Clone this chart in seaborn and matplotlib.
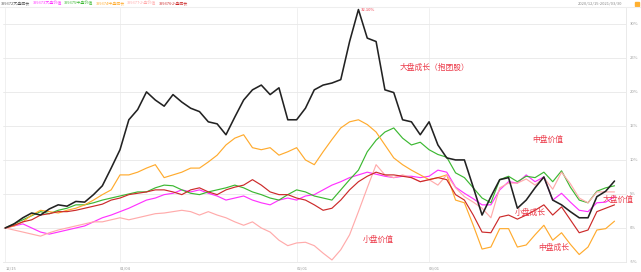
import numpy as np
import pandas as pd
import matplotlib
matplotlib.use("Agg")
import matplotlib.pyplot as plt
import seaborn as sns

# ---- data (cumulative return, %) ----
days = list(range(70))
big_growth = [0, 0.6, 1.5, 2.2, 1.9, 2.8, 3.4, 3.2, 3.9, 3.8, 4.9, 6.2, 8.8, 11.5, 15.9, 17.4, 20.0, 18.8, 17.9, 19.6,
              18.5, 17.6, 17.1, 15.6, 15.3, 13.7, 16.3, 18.8, 20.3, 21.0, 19.6, 20.6, 15.9, 15.9, 17.6, 20.3, 21.0, 21.3, 21.8, 27.4,
              32.1, 27.9, 27.4, 20.3, 19.9, 15.9, 15.6, 13.7, 15.6, 12.2, 10.3, 10.0, 10.0, 6.0, 1.9, 4.6, 7.1, 7.4, 2.9, 4.1,
              5.9, 7.5, 4.1, 3.4, 2.4, 1.5, 1.5, 4.6, 5.4, 6.9]
big_value = [0, 0.3, 0.6, 0, -0.6, -0.9, -0.6, -0.3, 0, 0.3, 0.9, 1.5, 1.9, 2.4, 2.9, 3.5, 4.1, 4.4, 4.9, 5.1,
             5.6, 5.3, 5.6, 5.1, 4.7, 4.1, 4.4, 4.7, 4.1, 3.7, 3.4, 4.1, 4.4, 4.1, 4.7, 4.9, 5.6, 6.3, 6.8, 7.4,
             7.8, 8.2, 7.9, 7.6, 7.4, 7.6, 7.6, 7.4, 7.6, 8.5, 8.2, 6.0, 5.1, 4.3, 3.4, 3.4, 5.6, 6.8, 6.6, 7.8,
             6.8, 7.5, 4.1, 5.1, 3.8, 2.6, 2.4, 3.7, 3.8, 4.6]
mid_value = [0, 0.6, 1.2, 1.8, 2.4, 2.1, 2.6, 2.9, 3.4, 3.4, 3.7, 4.1, 4.4, 4.7, 5.0, 5.3, 5.3, 5.9, 6.3, 6.2,
             5.6, 5.1, 4.9, 5.3, 5.6, 5.9, 6.3, 5.9, 5.3, 4.9, 4.4, 4.1, 4.9, 5.6, 5.3, 4.7, 4.4, 4.1, 5.6, 7.1,
             8.5, 11.2, 12.9, 14.1, 14.7, 13.2, 12.2, 12.6, 11.5, 10.8, 10.4, 8.1, 7.4, 5.9, 4.4, 3.7, 7.1, 7.6, 6.8, 7.6,
             7.4, 8.2, 6.8, 8.4, 6.0, 4.1, 3.7, 5.4, 5.9, 6.2]
mid_growth = [0, 0.3, 0.9, 1.9, 2.6, 2.4, 2.2, 2.6, 2.9, 3.4, 4.1, 4.9, 5.6, 7.8, 7.8, 8.2, 8.8, 9.3, 7.4, 7.8,
              8.2, 8.8, 8.8, 9.7, 10.7, 12.2, 13.2, 13.7, 11.8, 11.5, 11.8, 10.7, 11.2, 11.8, 10.0, 9.3, 11.2, 13.0, 14.7, 15.6,
              15.9, 15.2, 14.1, 12.2, 10.3, 9.3, 8.5, 7.8, 7.1, 7.4, 7.8, 4.1, 3.7, 0.4, -3.1, -2.8, -0.1, -0.1, -2.8, -2.5,
              -1.0, 0.4, -1.8, -0.7, -2.4, -3.9, -2.8, -0.3, -0.1, 1.0]
small_value = [0, -0.3, -0.6, -0.9, -1.2, -0.7, -0.3, 0, 0.3, 0.6, 0.9, 0.9, 1.2, 1.5, 1.2, 1.5, 1.8, 2.1, 2.2, 2.4,
               2.6, 2.4, 1.9, 2.4, 1.9, 1.5, 0.9, 0.4, 0.9, 0, -0.6, -1.8, -2.6, -2.2, -2.1, -2.6, -3.7, -4.7, -3.2, -1.0,
               2.4, 5.9, 9.3, 7.8, 7.4, 7.8, 7.4, 6.8, 7.1, 6.3, 7.8, 5.9, 4.6, 3.8, 2.9, 1.5, 5.9, 6.6, 6.6, 7.2,
               6.3, 7.4, 5.7, 8.2, 6.5, 4.4, 3.7, 5.3, 5.3, 5.3]
small_growth = [0, 0.4, 0.9, 1.2, 1.9, 2.1, 2.4, 2.4, 2.6, 2.9, 3.2, 3.5, 4.1, 4.4, 4.9, 5.1, 5.3, 5.6, 5.6, 5.3,
                4.9, 5.6, 5.9, 5.3, 4.9, 5.6, 6.0, 6.3, 7.1, 6.3, 5.3, 4.9, 4.9, 4.4, 4.1, 3.4, 2.6, 2.9, 4.1, 5.6,
                6.8, 7.6, 8.2, 7.8, 7.8, 7.6, 7.4, 6.8, 7.1, 7.4, 7.1, 4.9, 4.1, 1.9, -0.6, -0.7, 1.6, 1.9, 1.3, 1.9,
                2.6, 3.4, 1.9, 3.1, 1.2, -0.7, -0.3, 2.4, 2.9, 3.4]

series_names = ["399372大盘成长", "399373大盘价值", "399375中盘价值", "399374中盘成长", "399377小盘价值", "399376小盘成长"]
series_colors = ["#222222", "#ff33ff", "#3cb832", "#ffab2e", "#ffabab", "#cc2a2a"]
series_values = [big_growth, big_value, mid_value, mid_growth, small_value, small_growth]

x_tick_pos = [0, 13, 33, 48]
x_tick_labels = ["12/15", "01/04", "02/01", "03/01"]
y_ticks = [-5, 0, 5, 10, 15, 20, 25, 30]
y_tick_labels = ["-5%", "0%", "5%", "10%", "15%", "20%", "25%", "30%"]
date_range = "2020/12/15-2021/03/30"
peak_label = "32.10%"

annotations = [("大盘成长（抱团股）", 400, 68), ("中盘价值", 532, 140), ("小盘成长", 515, 213),
               ("大盘价值", 603, 200), ("中盘成长", 538, 248), ("小盘价值", 363, 240)]

# ---- figure ----
sns.set_theme(style="white")
plt.rcParams['font.family'] = ['Noto Sans CJK SC', 'DejaVu Sans']

W, H = 641, 272
fig = plt.figure(figsize=(W / 100, H / 100), dpi=100)
ax_left, ax_right, ax_top, ax_bottom = 3, 626, 7.5, 262
ax = fig.add_axes([ax_left / W, 1 - ax_bottom / H, (ax_right - ax_left) / W, (ax_bottom - ax_top) / H])

rows = []
for name, vals in zip(series_names, series_values):
    for d, v in zip(days, vals):
        rows.append({"day": d, "ret": v, "series": name})
df = pd.DataFrame(rows)

# draw in order so black is on top
draw_order = [1, 2, 3, 4, 5, 0]
for k in draw_order:
    sub = df[df["series"] == series_names[k]]
    sns.lineplot(data=sub, x="day", y="ret", ax=ax, color=series_colors[k],
                 linewidth=1.15 if k == 0 else 0.85, legend=False)

ax.set_xlim(-0.25, 70.3)
ax.set_ylim(-5.0, 32.4)
ax.set_xlabel("")
ax.set_ylabel("")

ax.set_yticks(y_ticks)
ax.set_yticklabels([])
ax.yaxis.grid(True, color="#e8e8e8", linewidth=0.6)
ax.set_xticks(x_tick_pos)
ax.set_xticklabels([])
ax.xaxis.grid(True, color="#eeeeee", linewidth=0.6)
ax.tick_params(length=0)
for s in ["top", "left"]:
    ax.spines[s].set_visible(False)
ax.spines["right"].set_color("#e6e6e6")
ax.spines["right"].set_linewidth(0.6)
ax.spines["bottom"].set_color("#e6e6e6")
ax.spines["bottom"].set_linewidth(0.6)

# right-side y labels
for yv, lab in zip(y_ticks, y_tick_labels):
    ax.annotate(lab, xy=(1, yv), xycoords=("axes fraction", "data"), xytext=(3, 0),
                textcoords="offset points", fontsize=3, color="#999999", va="center", ha="left")
# x labels
for xp, lab in zip(x_tick_pos, x_tick_labels):
    ax.annotate(lab, xy=(xp, 0), xycoords=("data", "axes fraction"), xytext=(0, -3),
                textcoords="offset points", fontsize=3, color="#999999", va="top", ha="left")

# top legend (colored text)
lx = 1
for name, col in zip(series_names, series_colors):
    fig.text(lx / W, 1 - 3.5 / H, name, fontsize=2.9,
             color=col if col != "#222222" else "#555555", va="center", ha="left")
    lx += 31.5
fig.text(622 / W, 1 - 3.5 / H, date_range, fontsize=2.9, color="#888888", va="center", ha="right")
fig.add_artist(plt.Rectangle((635 / W, 1 - 6 / H), 4 / W, 4 / H, color="#ffb030", transform=fig.transFigure))
fig.add_artist(plt.Line2D([0, 1], [1 - 6.5 / H, 1 - 6.5 / H], color="#eeeeee", linewidth=0.8,
                          transform=fig.transFigure))

# peak label
pk = int(np.argmax(big_growth))
ax.annotate(peak_label, xy=(pk, big_growth[pk]), xytext=(2, 0), textcoords="offset points",
            fontsize=3, color="#ee3344", va="center", ha="left")

# chinese annotations (pixel positions -> figure coords)
for txt, px, py in annotations:
    fig.text(px / W, 1 - py / H, txt, fontsize=5.6, color="#ec3b4a", va="center", ha="left")

fig.savefig("out.png", dpi=100, facecolor="white")
